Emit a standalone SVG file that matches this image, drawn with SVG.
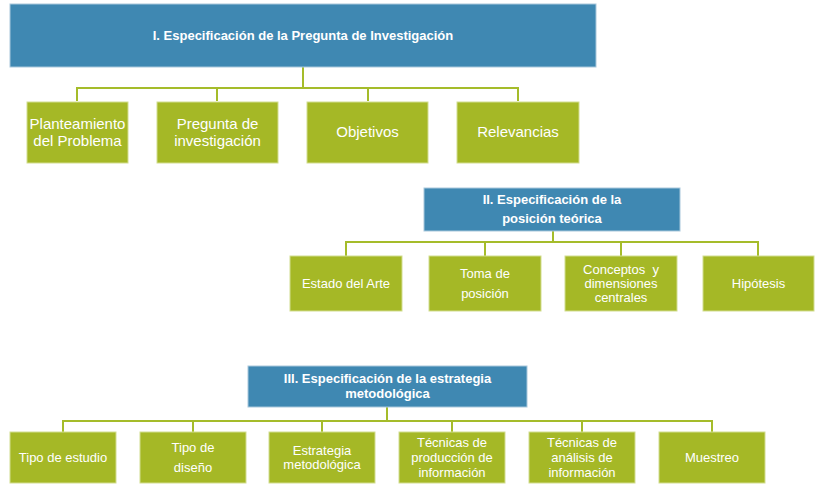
<svg xmlns="http://www.w3.org/2000/svg" width="822" height="488" viewBox="0 0 822 488">
<style>
.bg{fill:#ffffff}
.blue{fill:#3f88b2;stroke:#a9c8dc;stroke-width:1}
.green{fill:#a5b826;stroke:#d2dd8f;stroke-width:1}
.conn{fill:none;stroke:#a5bc2a;stroke-width:2}
text{font-family:"Liberation Sans",Arial,sans-serif;fill:#ffffff;text-anchor:middle}
.h{font-weight:bold;font-size:13px}
.t1{font-size:15px}
.t2{font-size:13px}
</style>
<rect class="bg" x="0" y="0" width="822" height="488"/>
<g id="connectors">
<path class="conn" d="M303 67V88M77 101V88H518V101M217 88V101M368 88V101"/>
<path class="conn" d="M553 231V242M346 256V242H758V256M485 242V256M621 242V256"/>
<path class="conn" d="M387 407V421M63 432V421H712V432M193 421V432M322 421V432M452 421V432M582 421V432"/>
</g>
<g id="n1"><rect class="blue" x="10" y="4" width="586" height="63"/><text class="h" x="303" y="40">I. Especificación de la Pregunta de Investigación</text></g>
<g id="n1a"><rect class="green" x="27" y="102" width="101" height="61"/><text class="t1" x="77.5" y="129">Planteamiento</text><text class="t1" x="77.5" y="146">del Problema</text></g>
<g id="n1b"><rect class="green" x="157" y="102" width="121" height="61"/><text class="t1" x="217.5" y="129">Pregunta de</text><text class="t1" x="217.5" y="146">investigación</text></g>
<g id="n1c"><rect class="green" x="307" y="102" width="121" height="61"/><text class="t1" x="367.5" y="137">Objetivos</text></g>
<g id="n1d"><rect class="green" x="457" y="102" width="122" height="61"/><text class="t1" x="518" y="137">Relevancias</text></g>
<g id="n2"><rect class="blue" x="424" y="188" width="256" height="43"/><text class="h" x="552" y="204">II. Especificación de la</text><text class="h" x="552" y="223">posición teórica</text></g>
<g id="n2a"><rect class="green" x="290" y="256" width="112" height="55"/><text class="t2" x="346" y="288">Estado del Arte</text></g>
<g id="n2b"><rect class="green" x="429" y="256" width="112" height="55"/><text class="t2" x="485" y="278">Toma de</text><text class="t2" x="485" y="298">posición</text></g>
<g id="n2c"><rect class="green" x="565" y="256" width="112" height="55"/><text class="t2" x="621" y="274" xml:space="preserve">Conceptos  y</text><text class="t2" x="621" y="288">dimensiones</text><text class="t2" x="621" y="302">centrales</text></g>
<g id="n2d"><rect class="green" x="703" y="256" width="111" height="55"/><text class="t2" x="758.5" y="288">Hipótesis</text></g>
<g id="n3"><rect class="blue" x="248" y="366" width="279" height="41"/><text class="h" x="387.5" y="383">III. Especificación de la estrategia</text><text class="h" x="387.5" y="398">metodológica</text></g>
<g id="n3a"><rect class="green" x="10" y="432" width="106" height="51"/><text class="t2" x="63" y="462">Tipo de estudio</text></g>
<g id="n3b"><rect class="green" x="140" y="432" width="106" height="51"/><text class="t2" x="193" y="452">Tipo de</text><text class="t2" x="193" y="472">diseño</text></g>
<g id="n3c"><rect class="green" x="269" y="432" width="106" height="51"/><text class="t2" x="322" y="455">Estrategia</text><text class="t2" x="322" y="469">metodológica</text></g>
<g id="n3d"><rect class="green" x="399" y="432" width="106" height="51"/><text class="t2" x="452" y="447">Técnicas de</text><text class="t2" x="452" y="462">producción de</text><text class="t2" x="452" y="477">información</text></g>
<g id="n3e"><rect class="green" x="529" y="432" width="106" height="51"/><text class="t2" x="582" y="447">Técnicas de</text><text class="t2" x="582" y="462">análisis de</text><text class="t2" x="582" y="477">información</text></g>
<g id="n3f"><rect class="green" x="659" y="432" width="106" height="51"/><text class="t2" x="712" y="462">Muestreo</text></g>
</svg>
